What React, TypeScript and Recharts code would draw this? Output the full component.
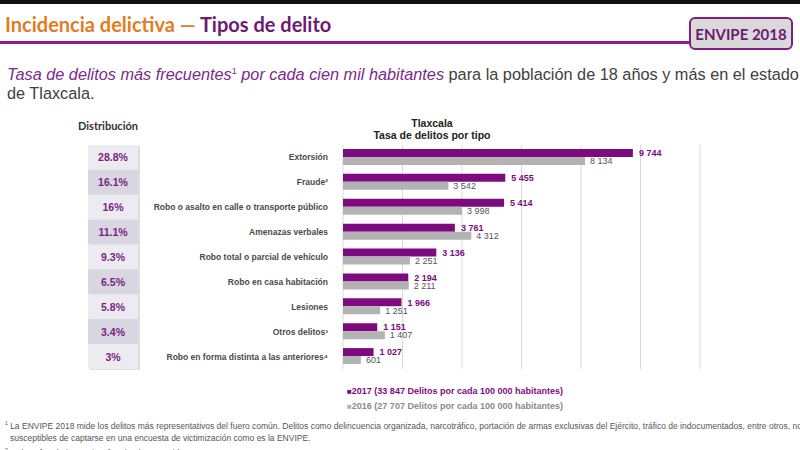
import React from "react";
import { BarChart, Bar, XAxis, YAxis, CartesianGrid, LabelList, Legend } from "recharts";

const categories = [
  "Extorsión",
  "Fraude²",
  "Robo o asalto en calle o transporte público",
  "Amenazas verbales",
  "Robo total o parcial de vehículo",
  "Robo en casa habitación",
  "Lesiones",
  "Otros delitos³",
  "Robo en forma distinta a las anteriores⁴",
];
const values2017 = [9744, 5455, 5414, 3761, 3136, 2194, 1966, 1151, 1027];
const values2016 = [8134, 3542, 3998, 4312, 2251, 2211, 1251, 1407, 601];
const distribution = ["28.8%", "16.1%", "16%", "11.1%", "9.3%", "6.5%", "5.8%", "3.4%", "3%"];
const xTicks = [0, 2000, 4000, 6000, 8000, 10000, 12000];
const seriesNames = [
  "2017 (33 847 Delitos por cada 100 000 habitantes)",
  "2016 (27 707 Delitos por cada 100 000 habitantes)",
];

const PURPLE = "#7e0a80";
const GRAY = "#b3b3b3";

const data = categories.map((c, i) => ({
  name: c,
  v2017: values2017[i],
  v2016: values2016[i],
  dist: distribution[i],
}));

const fmt = (v: any) => {
  const s = String(v);
  return s.replace(/\B(?=(\d{3})+(?!\d))/g, " ");
};

const CHART_TOP = 145;
const CHART_BOTTOM = 81;
const CHART_H = 450;
const BAND = (CHART_H - CHART_TOP - CHART_BOTTOM) / categories.length;

const CatTick = (props: any) => {
  const { x, y, payload, index } = props;
  const d = data[index];
  const even = index % 2 === 0;
  return (
    <g>
      <rect x={90} y={y - BAND / 2 + 1} width={50} height={BAND} fill="#c9c6cf" opacity={0.6} />
      <rect x={88} y={y - BAND / 2} width={50} height={BAND} fill={even ? "#ecebf0" : "#d8d6e0"} />
      <text x={113} y={y} dy={4} textAnchor="middle" fontFamily="Liberation Sans, Arial" fontWeight="bold" fontSize={10.5} fill="#7a1f86">
        {d ? d.dist : ""}
      </text>
      <text x={x} y={y} dy={3} textAnchor="end" fontFamily="Liberation Sans, Arial" fontWeight="bold" fontSize={8.5} fill="#4a4a4a">
        {payload.value}
      </text>
    </g>
  );
};

const LegendContent = (props: any) => {
  const payload = [...(props.payload || [])].sort((a: any, b: any) =>
    a.dataKey === "v2017" ? -1 : b.dataKey === "v2017" ? 1 : 0
  );
  return (
    <div style={{ fontFamily: "Liberation Sans, Arial", fontSize: 9, fontWeight: "bold", lineHeight: "15px", textAlign: "left" }}>
      {payload.map((p: any, i: number) => (
        <div key={i} style={{ color: p.dataKey === "v2017" ? PURPLE : "#8a8a8a", whiteSpace: "nowrap" }}>
          <span style={{ color: p.color, fontSize: 8 }}>■</span>
          {p.value}
        </div>
      ))}
    </div>
  );
};

export default function App() {
  return (
    <div style={{ position: "absolute", left: 0, top: 0, width: 800, height: 450, background: "#fff", overflow: "hidden" }}>
      <div style={{ position: "absolute", left: 0, top: 0, width: 800, height: 4, background: "#111" }} />
      <div style={{ position: "absolute", left: 0, top: 0 }}>
        <BarChart
          width={800}
          height={CHART_H}
          data={data}
          layout="vertical"
          margin={{ top: CHART_TOP, right: 100, bottom: CHART_BOTTOM, left: 0 }}
          barCategoryGap="16%"
          barGap={0}
        >
          <CartesianGrid horizontal={false} stroke="#d9d9d9" />
          <XAxis type="number" domain={[0, 12000]} ticks={xTicks} hide />
          <YAxis
            type="category"
            dataKey="name"
            width={343}
            axisLine={false}
            tickLine={false}
            tickMargin={9}
            interval={0}
            tick={<CatTick />}
          />
          <Legend
            layout="vertical"
            verticalAlign="middle"
            align="center"
            content={<LegendContent />}
            wrapperStyle={{ position: "absolute", left: 347, top: 384, width: 300, margin: 0 }}
          />
          <Bar dataKey="v2017" name={seriesNames[0]} fill={PURPLE} isAnimationActive={false}>
            <LabelList dataKey="v2017" position="right" offset={6} formatter={fmt} fill={PURPLE} fontSize={9} fontWeight="bold" fontFamily="Liberation Sans, Arial" />
          </Bar>
          <Bar dataKey="v2016" name={seriesNames[1]} fill={GRAY} isAnimationActive={false}>
            <LabelList dataKey="v2016" position="right" offset={5} formatter={fmt} fill="#555" fontSize={9} fontFamily="Liberation Sans, Arial" />
          </Bar>
        </BarChart>
      </div>

      <div style={{ position: "absolute", left: 5, top: 12, fontFamily: "Lato, 'Open Sans', sans-serif", fontWeight: "bold", fontSize: 20, whiteSpace: "nowrap" }}>
        <span style={{ color: "#e07d22" }}>Incidencia delictiva — </span>
        <span style={{ color: "#6e1a72" }}>Tipos de delito</span>
      </div>
      <div style={{ position: "absolute", left: 0, top: 41, width: 692, height: 3, background: "#8c1d8e" }} />
      <div style={{ position: "absolute", left: 689, top: 17, width: 104, height: 33, boxSizing: "border-box", border: "2px solid #7c1f80", borderRadius: 6, background: "#d9d9d9", display: "flex", alignItems: "center", justifyContent: "center", fontFamily: "Lato, 'Open Sans', sans-serif", fontWeight: "bold", fontSize: 15, color: "#6e1a72" }}>
        ENVIPE 2018
      </div>

      <div style={{ position: "absolute", left: 7, top: 62, width: 820, fontFamily: "Liberation Sans, Arial", fontSize: 16.3, lineHeight: "19px", color: "#404040", whiteSpace: "nowrap" }}>
        <span style={{ color: "#7c2a8c", fontStyle: "italic" }}>Tasa de delitos más frecuentes<sup style={{ fontSize: 9, fontStyle: "normal" }}>1</sup> por cada cien mil habitantes</span>
        <span> para la población de 18 años y más en el estado</span>
        <br />
        <span>de Tlaxcala.</span>
      </div>

      <div style={{ position: "absolute", left: 78, top: 119, fontFamily: "Lato, 'Open Sans', sans-serif", fontWeight: "bold", fontSize: 11, color: "#333" }}>
        Distribución
      </div>
      <div style={{ position: "absolute", left: 332, top: 117, width: 200, textAlign: "center", fontFamily: "Liberation Sans, Arial", fontWeight: "bold", fontSize: 10.5, lineHeight: "12px", color: "#222" }}>
        Tlaxcala
        <br />
        Tasa de delitos por tipo
      </div>

      <div style={{ position: "absolute", left: 5, top: 417, width: 900, fontFamily: "'Liberation Sans Narrow', 'Liberation Sans', Arial", fontSize: 8.5, lineHeight: "12px", color: "#555", whiteSpace: "nowrap" }}>
        <div><sup style={{ fontSize: 5 }}>1</sup> La ENVIPE 2018 mide los delitos más representativos del fuero común. Delitos como delincuencia organizada, narcotráfico, portación de armas exclusivas del Ejército, tráfico de indocumentados, entre otros, no son</div>
        <div style={{ paddingLeft: 5 }}>susceptibles de captarse en una encuesta de victimización como es la ENVIPE.</div>
        <div><sup style={{ fontSize: 5 }}>2</sup> Incluye fraude bancario y fraude al consumidor.</div>
      </div>
    </div>
  );
}
